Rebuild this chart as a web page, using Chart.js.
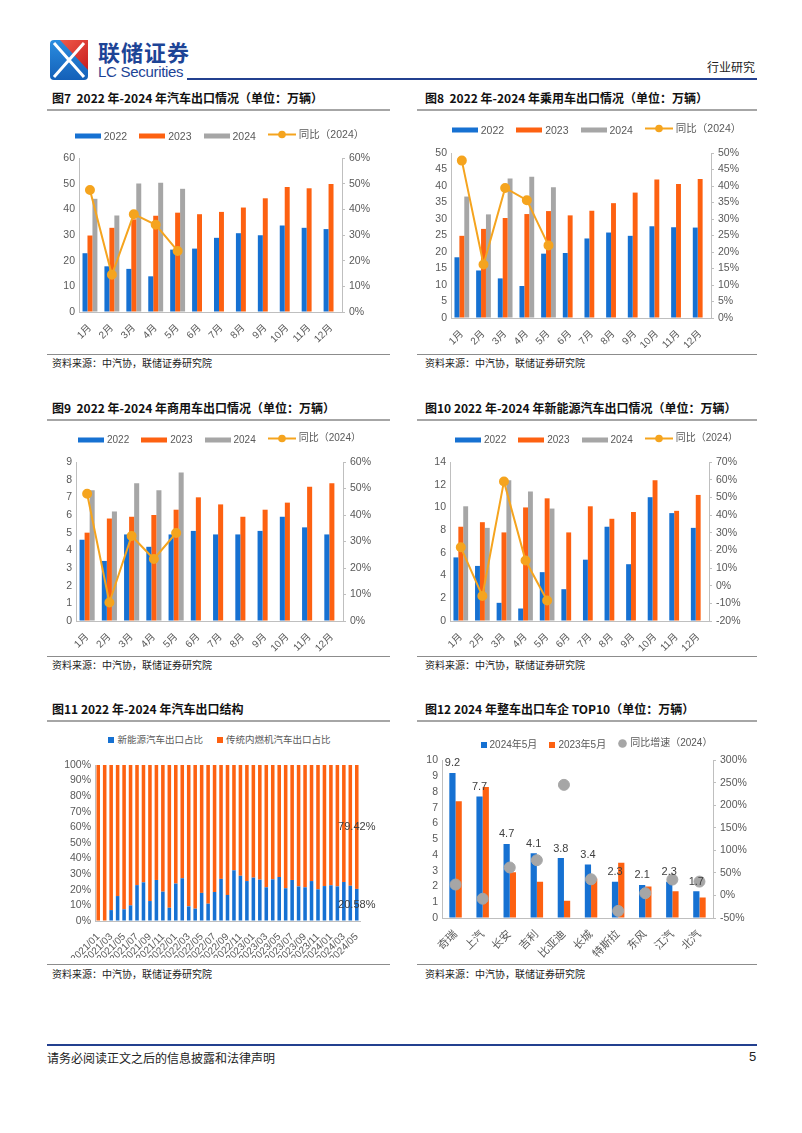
<!DOCTYPE html>
<html><head><meta charset="utf-8">
<script src="https://cdn.jsdelivr.net/npm/chart.js@4.4.0/dist/chart.umd.min.js"></script>
<style>
body{margin:0;background:#fff;width:802px;height:1133px;position:relative;overflow:hidden;font-family:"Noto Sans CJK SC","Liberation Sans",sans-serif;}
.abs{position:absolute;white-space:nowrap;}
.title{font-weight:bold;font-size:12px;color:#111;line-height:14px;}
.hline{position:absolute;height:2px;background:#a6a6a6;}
.sline{position:absolute;height:1px;background:#8c8c8c;}
.src{font-size:10px;color:#222;line-height:12px;}
.legend{position:absolute;text-align:center;color:#595959;white-space:nowrap;font-family:"Liberation Sans","Noto Sans CJK SC",sans-serif;line-height:16px;}
.legend .item{display:inline-flex;align-items:center;}
.legend svg{margin-right:3px;}
canvas{position:absolute;}
</style></head>
<body>
<!-- header -->
<svg class="abs" style="left:50px;top:40px" width="38" height="40" viewBox="0 0 38 40">
  <defs><linearGradient id="bg" x1="0" y1="0" x2="0" y2="1"><stop offset="0" stop-color="#2a8de0"/><stop offset="1" stop-color="#1460b8"/></linearGradient>
  <linearGradient id="rg" x1="0" y1="0" x2="1" y2="1"><stop offset="0" stop-color="#f05a4a"/><stop offset="1" stop-color="#c81e1e"/></linearGradient></defs>
  <rect x="0" y="0" width="38" height="40" rx="4" fill="url(#bg)"/>
  <path d="M10 0 L38 0 L38 30 Z" fill="url(#rg)"/>
  <path d="M4 3 L19 20 L4 37" stroke="#fff" stroke-width="3" fill="none"/>
  <path d="M34 3 L19 20 L34 37" stroke="#fff" stroke-width="3" fill="none"/>
</svg>
<div class="abs" style="left:98px;top:38px;font-size:22px;font-weight:bold;color:#1d4496;letter-spacing:1px;line-height:26px">联储证券</div>
<div class="abs" style="left:98px;top:63px;font-size:15px;color:#1d4496;line-height:18px;font-family:'Liberation Sans Narrow','Liberation Sans',sans-serif;letter-spacing:-0.3px">LC Securities</div>
<div class="abs" style="left:187px;top:78px;width:570px;height:2px;background:#23408f"></div>
<div class="abs" style="left:707px;top:60px;font-size:12px;color:#222;line-height:14px">行业研究</div>

<!-- titles & rules -->
<div class="abs title" style="left:52px;top:91px">图7&nbsp; 2022 年-2024 年汽车出口情况（单位：万辆）</div>
<div class="abs title" style="left:425px;top:91px">图8&nbsp; 2022 年-2024 年乘用车出口情况（单位：万辆）</div>
<div class="hline" style="left:47px;top:109px;width:343px"></div>
<div class="hline" style="left:417px;top:109px;width:340px"></div>
<div class="sline" style="left:47px;top:354px;width:343px"></div>
<div class="sline" style="left:417px;top:354px;width:340px"></div>
<div class="abs src" style="left:52px;top:357px">资料来源：中汽协，联储证券研究院</div>
<div class="abs src" style="left:425px;top:357px">资料来源：中汽协，联储证券研究院</div>

<div class="abs title" style="left:52px;top:401px">图9&nbsp; 2022 年-2024 年商用车出口情况（单位：万辆）</div>
<div class="abs title" style="left:425px;top:401px">图10 2022 年-2024 年新能源汽车出口情况（单位：万辆）</div>
<div class="hline" style="left:47px;top:419px;width:343px"></div>
<div class="hline" style="left:417px;top:419px;width:340px"></div>
<div class="sline" style="left:47px;top:656px;width:343px"></div>
<div class="sline" style="left:417px;top:656px;width:340px"></div>
<div class="abs src" style="left:52px;top:659px">资料来源：中汽协，联储证券研究院</div>
<div class="abs src" style="left:425px;top:659px">资料来源：中汽协，联储证券研究院</div>

<div class="abs title" style="left:52px;top:702px">图11 2022 年-2024 年汽车出口结构</div>
<div class="abs title" style="left:425px;top:702px">图12 2024 年整车出口车企 TOP10（单位：万辆）</div>
<div class="hline" style="left:47px;top:720px;width:343px"></div>
<div class="hline" style="left:417px;top:720px;width:340px"></div>
<div class="sline" style="left:47px;top:964px;width:343px"></div>
<div class="sline" style="left:417px;top:964px;width:340px"></div>
<div class="abs src" style="left:52px;top:968px">资料来源：中汽协，联储证券研究院</div>
<div class="abs src" style="left:425px;top:968px">资料来源：中汽协，联储证券研究院</div>

<!-- footer -->
<div class="abs" style="left:47px;top:1044px;width:710px;height:2px;background:#23408f"></div>
<div class="abs" style="left:47px;top:1050px;font-size:12px;color:#222;line-height:15px">请务必阅读正文之后的信息披露和法律声明</div>
<div class="abs" style="left:749px;top:1049px;font-size:13px;color:#222;line-height:15px;font-family:'Liberation Sans'">5</div>

<canvas id="c7" width="345" height="228" style="left:47px;top:120px"></canvas>
<canvas id="c8" width="345" height="228" style="left:420px;top:120px"></canvas>
<canvas id="c9" width="345" height="212" style="left:47px;top:440px"></canvas>
<canvas id="c10" width="345" height="212" style="left:420px;top:440px"></canvas>
<canvas id="c11" width="345" height="208" style="left:47px;top:750px"></canvas>
<canvas id="c12" width="345" height="208" style="left:420px;top:750px"></canvas>

<script>
// ---------- data ----------
const months = ['1月','2月','3月','4月','5月','6月','7月','8月','9月','10月','11月','12月'];
const seriesNames = ['2022','2023','2024','同比（2024）'];

// 图7 汽车出口
const total2022 = [22.9, 17.8, 16.8, 13.9, 24.3, 24.7, 28.9, 30.7, 29.9, 33.7, 32.8, 32.3];
const total2023 = [29.8, 32.8, 36.1, 37.5, 38.7, 38.1, 39.0, 40.7, 44.3, 48.7, 48.2, 49.9];
const total2024 = [44.1, 37.6, 50.1, 50.4, 48.0];
const totalYoy  = [47.5, 14.5, 38.1, 34.0, 23.8];

// 图8 乘用车出口
const pass2022 = [18.4, 14.4, 12.0, 9.7, 19.5, 19.7, 24.1, 25.9, 24.9, 27.8, 27.5, 27.4];
const pass2023 = [24.9, 27.0, 30.3, 31.5, 32.4, 31.1, 32.5, 34.8, 38.0, 42.0, 40.6, 42.1];
const pass2024 = [36.8, 31.4, 42.3, 42.8, 39.6];
const passYoy  = [47.7, 16.2, 39.4, 35.7, 22.0];

// 图9 商用车出口
const comm2022 = [4.6, 3.4, 4.9, 4.2, 4.9, 5.1, 4.9, 4.9, 5.1, 5.9, 5.3, 4.9];
const comm2023 = [5.0, 5.8, 5.9, 6.0, 6.3, 7.0, 6.6, 5.9, 6.3, 6.7, 7.6, 7.8];
const comm2024 = [7.4, 6.2, 7.8, 7.4, 8.4];
const commYoy  = [48.0, 7.0, 32.1, 23.4, 33.2];

// 图10 新能源汽车出口
const nev2022 = [5.6, 4.85, 1.6, 1.1, 4.3, 2.8, 5.4, 8.3, 5.0, 10.9, 9.5, 8.2];
const nev2023 = [8.3, 8.7, 7.8, 10.0, 10.8, 7.8, 10.1, 9.0, 9.6, 12.4, 9.7, 11.1];
const nev2024 = [10.1, 8.2, 12.4, 11.4, 9.9];
const nevYoy  = [21.7, -5.8, 59.0, 14.2, -8.4];

// 图11 出口结构
const structMonths = ['2021/01','2021/02','2021/03','2021/04','2021/05','2021/06','2021/07','2021/08','2021/09','2021/10','2021/11','2021/12',
  '2022/01','2022/02','2022/03','2022/04','2022/05','2022/06','2022/07','2022/08','2022/09','2022/10','2022/11','2022/12',
  '2023/01','2023/02','2023/03','2023/04','2023/05','2023/06','2023/07','2023/08','2023/09','2023/10','2023/11','2023/12',
  '2024/01','2024/02','2024/03','2024/04','2024/05'];
const nevShare = [0, 0, 7.0, 16.0, 7.5, 10.0, 23.0, 24.8, 12.8, 26.3, 18.8, 8.5,
  24.0, 27.4, 9.4, 7.9, 18.0, 11.1, 18.6, 27.0, 16.7, 32.5, 29.0, 25.6,
  27.8, 26.5, 21.6, 26.7, 28.2, 21.0, 26.3, 22.2, 21.6, 25.6, 20.3, 22.4,
  22.9, 22.2, 25.0, 22.6, 20.58];
const iceShare = [100, 100, 93.0, 84.0, 92.5, 90.0, 77.0, 75.2, 87.2, 73.7, 81.2, 91.5,
  76.0, 72.6, 90.6, 92.1, 82.0, 88.9, 81.4, 73.0, 83.3, 67.5, 71.0, 74.4,
  72.2, 73.5, 78.4, 73.3, 71.8, 79.0, 73.7, 77.8, 78.4, 74.4, 79.7, 77.6,
  77.1, 77.8, 75.0, 77.4, 79.42];
const structNames = ['新能源汽车出口占比','传统内燃机汽车出口占比'];

// 图12 TOP10
const makers = ['奇瑞','上汽','长安','吉利','比亚迪','长城','特斯拉','东风','江汽','北汽'];
const may2024 = [9.2, 7.7, 4.7, 4.1, 3.8, 3.4, 2.3, 2.1, 2.3, 1.7];
const may2023 = [7.4, 8.3, 2.9, 2.3, 1.1, 2.5, 3.5, 2.0, 1.7, 1.3];
const makerYoy = [24.3, -7.2, 62.1, 78.3, 245.5, 36.0, -34.3, 5.0, 35.3, 30.8];
const top10Names = ['2024年5月','2023年5月','同比增速（2024）'];

// ---------- style ----------
const C_BLUE='#1671d2', C_ORANGE='#fd6111', C_GREY='#a6a6a6', C_GOLD='#f5a41e';
const TICK='#595959', AXIS='#bfbfbf';
const FONT="'Liberation Sans','Noto Sans CJK SC',sans-serif";

function legend(left, cy, width, items, fs){
  const d=document.createElement('div'); d.className='legend';
  d.style.left=left+'px'; d.style.top=(cy-8)+'px'; d.style.width=width+'px'; d.style.fontSize=fs+'px';
  d.innerHTML = items.map(it=>{
    let ic='';
    if(it.t==='bar') ic=`<svg width="26" height="6"><rect x="0" y="0.5" width="26" height="5" fill="${it.c}"/></svg>`;
    else if(it.t==='line') ic=`<svg width="28" height="9"><line x1="0" y1="4.5" x2="28" y2="4.5" stroke="${it.c}" stroke-width="2"/><circle cx="14" cy="4.5" r="3.8" fill="${it.c}"/></svg>`;
    else if(it.t==='sq') ic=`<svg width="6" height="6"><rect width="6" height="6" fill="${it.c}"/></svg>`;
    else ic=`<svg width="9" height="9"><circle cx="4.5" cy="4.5" r="4.3" fill="${it.c}"/></svg>`;
    return `<span class="item" style="margin:0 ${it.g}px">${ic}${it.l}</span>`;
  }).join('');
  document.body.appendChild(d);
}

function yAxis(pos, min, max, step, width, pct){
  return { position:pos, min, max,
    grid:{display:true, drawOnChartArea:false, drawTicks:pos==='right', tickLength:3, color:AXIS},
    border:{display:true, color:AXIS},
    ticks:{stepSize:step, color:TICK, font:{family:FONT,size:10.5}, padding:4,
      callback:v=> pct ? v+'%' : v},
    afterFit(s){ s.width=width; } };
}
function xAxis(height, fs, cb){
  const t={color:TICK, autoSkip:false, maxRotation:45, minRotation:45, font:{family:FONT,size:fs}, padding:2};
  if(cb) t.callback=cb;
  return { grid:{display:false}, border:{display:true,color:AXIS}, ticks:t, afterFit(s){ s.height=height; } };
}
const baseOpts = (pad)=>({responsive:false, animation:false, devicePixelRatio:1,
  plugins:{legend:{display:false}, tooltip:{enabled:false}}, layout:{padding:pad}});

function combo(id, d22, d23, d24, yoy, cfg){
  const bar=(label,data,color)=>({type:'bar',label,data,backgroundColor:color,yAxisID:'y',order:1,categoryPercentage:0.68,barPercentage:1});
  const opts = baseOpts({top:cfg.top,left:0,right:0,bottom:0});
  opts.scales = { x:xAxis(cfg.xh, 10),
    y:yAxis('left', cfg.l[0], cfg.l[1], cfg.l[2], cfg.lw, false),
    y1:yAxis('right', cfg.r[0], cfg.r[1], cfg.r[2], cfg.rw, true) };
  new Chart(document.getElementById(id), {
    data:{labels:months, datasets:[
      bar(seriesNames[0], d22, C_BLUE), bar(seriesNames[1], d23, C_ORANGE), bar(seriesNames[2], d24, C_GREY),
      {type:'line', label:seriesNames[3], data:yoy, borderColor:C_GOLD, backgroundColor:C_GOLD, borderWidth:2,
       pointRadius:4, pointBackgroundColor:C_GOLD, pointBorderColor:C_GOLD, yAxisID:'y1', order:0, tension:0}
    ]}, options:opts });
}
const comboLegend = (left, cy, fs)=>legend(left, cy, 345, [
  {t:'bar',c:C_BLUE,l:seriesNames[0],g:6},{t:'bar',c:C_ORANGE,l:seriesNames[1],g:6},
  {t:'bar',c:C_GREY,l:seriesNames[2],g:6},{t:'line',c:C_GOLD,l:seriesNames[3],g:6}], fs);

combo('c7', total2022, total2023, total2024, totalYoy, {top:38, xh:36, l:[0,60,10], r:[0,60,10], lw:32, rw:50});
comboLegend(47, 134, 10.5);
combo('c8', pass2022, pass2023, pass2024, passYoy, {top:33, xh:30, l:[0,50,5], r:[0,50,5], lw:31, rw:54});
comboLegend(424, 128, 10.5);
combo('c9', comm2022, comm2023, comm2024, commYoy, {top:22, xh:31, l:[0,9,1], r:[0,60,10], lw:29, rw:49});
comboLegend(47, 438, 10);
combo('c10', nev2022, nev2023, nev2024, nevYoy, {top:22, xh:31, l:[0,14,2], r:[-20,70,10], lw:30, rw:56});
comboLegend(424, 438, 10);

// 图11
const endLabels = {id:'endLabels', afterDatasetsDraw(chart){
  const ctx=chart.ctx; ctx.save(); ctx.font="11px "+FONT; ctx.fillStyle='#404040'; ctx.textAlign='center'; ctx.textBaseline='middle';
  [0,1].forEach(di=>{
    const meta=chart.getDatasetMeta(di); const n=meta.data.length-1; const el=meta.data[n];
    const v=chart.data.datasets[di].data[n];
    ctx.fillText(v.toFixed(2)+'%', el.x, (el.y+el.base)/2);
  });
  ctx.restore(); }};
const o11 = baseOpts({top:15,left:0,right:32,bottom:0});
o11.scales = { x:Object.assign(xAxis(37, 10, function(v,i){ return i%2===0 ? this.getLabelForValue(v) : ''; }), {stacked:true}),
  y:Object.assign(yAxis('left',0,100,10,48,true), {stacked:true}) };
new Chart(document.getElementById('c11'), {type:'bar',
  data:{labels:structMonths, datasets:[
    {label:structNames[0], data:nevShare, backgroundColor:C_BLUE, categoryPercentage:1, barPercentage:0.55},
    {label:structNames[1], data:iceShare, backgroundColor:C_ORANGE, categoryPercentage:1, barPercentage:0.55}]},
  options:o11, plugins:[endLabels]});
legend(47, 740, 345, [{t:'sq',c:C_BLUE,l:structNames[0],g:7},{t:'sq',c:C_ORANGE,l:structNames[1],g:7}], 9.5);

// 图12
const valLabels = {id:'valLabels', afterDatasetsDraw(chart){
  const ctx=chart.ctx; ctx.save(); ctx.font="11px "+FONT; ctx.fillStyle='#404040'; ctx.textAlign='center'; ctx.textBaseline='bottom';
  const meta=chart.getDatasetMeta(0);
  meta.data.forEach((el,i)=>ctx.fillText(String(chart.data.datasets[0].data[i]), el.x, el.y-4));
  ctx.restore(); }};
const o12 = baseOpts({top:10,left:0,right:0,bottom:0});
o12.scales = { x:xAxis(40, 11), y:yAxis('left',0,10,1,22,false), y1:yAxis('right',-50,300,50,52,true) };
new Chart(document.getElementById('c12'), {
  data:{labels:makers, datasets:[
    {type:'bar', label:top10Names[0], data:may2024, backgroundColor:C_BLUE, yAxisID:'y', order:1, categoryPercentage:0.46, barPercentage:1},
    {type:'bar', label:top10Names[1], data:may2023, backgroundColor:C_ORANGE, yAxisID:'y', order:1, categoryPercentage:0.46, barPercentage:1},
    {type:'line', label:top10Names[2], data:makerYoy, showLine:false, pointRadius:5.5, pointBackgroundColor:C_GREY, pointBorderColor:C_GREY, backgroundColor:C_GREY, yAxisID:'y1', order:0}
  ]}, options:o12, plugins:[valLabels]});
legend(424, 743, 345, [{t:'sq',c:C_BLUE,l:top10Names[0],g:6},{t:'sq',c:C_ORANGE,l:top10Names[1],g:6},{t:'dot',c:C_GREY,l:top10Names[2],g:6}], 10);
</script>
</body></html>
